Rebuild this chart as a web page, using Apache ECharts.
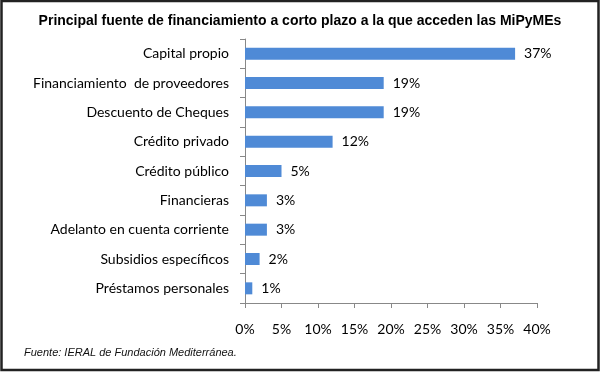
<!DOCTYPE html>
<html><head><meta charset="utf-8">
<script src="https://cdn.jsdelivr.net/npm/echarts@6/dist/echarts.min.js"></script>
<style>html,body{margin:0;padding:0;background:#fff}#c{width:600px;height:372px}</style>
</head><body><div id="c"></div>
<script>
const categories = ["Capital propio","Financiamiento  de proveedores","Descuento de Cheques","Crédito privado","Crédito público","Financieras","Adelanto en cuenta corriente","Subsidios específicos","Préstamos personales"];
const values = [37,19,19,12,5,3,3,2,1];
const xTicks = [0,5,10,15,20,25,30,35,40];

const chart = echarts.init(document.getElementById('c'));
chart.setOption({
  animation:false,
  backgroundColor:'#fff',
  title:{text:'Principal fuente de financiamiento a corto plazo a la que acceden las MiPyMEs',left:'center',top:9,
    textStyle:{fontFamily:'Liberation Sans',fontWeight:'bold',fontSize:14,color:'#000'}},
  graphic:[
    {type:'rect',shape:{x:1.5,y:1,width:597,height:369},style:{fill:'none',stroke:'#222',lineWidth:2.5}},
    {type:'text',left:24,top:347,style:{text:'Fuente: IERAL de Fundación Mediterránea.',font:'italic 11px Liberation Sans',fill:'#111'}}
  ],
  grid:{left:245,right:63,top:39,bottom:69},
  xAxis:{type:'value',min:xTicks[0],max:xTicks[xTicks.length-1],interval:5,
    axisLine:{show:true,lineStyle:{color:'#888'}},
    axisTick:{show:true,length:5,lineStyle:{color:'#888'}},
    splitLine:{show:false},
    axisLabel:{margin:19,formatter:v=>v+'%',fontFamily:'Lato',fontSize:14,color:'#000'}},
  yAxis:{type:'category',data:categories,inverse:true,
    axisLine:{show:true,lineStyle:{color:'#888'}},
    axisTick:{show:true,length:5,lineStyle:{color:'#888'}},
    axisLabel:{margin:16,fontFamily:'Lato',fontSize:14,color:'#000'}},
  series:[{type:'bar',data:values,barWidth:12,itemStyle:{color:'#4f8ad6'},
    label:{show:true,position:'right',distance:9,formatter:p=>p.value+'%',fontFamily:'Lato',fontSize:14,color:'#000'}}]
});
</script></body></html>
